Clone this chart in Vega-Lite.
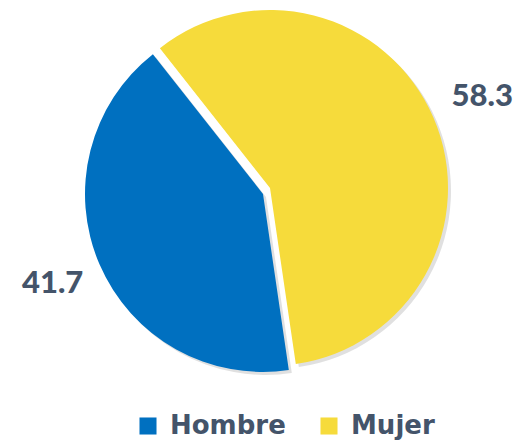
{
  "$schema": "https://vega.github.io/schema/vega-lite/v6.json",
  "width": 508,
  "height": 376,
  "padding": {"left": 16, "top": 0, "right": 0, "bottom": 65},
  "autosize": {"type": "none"},
  "background": "white",
  "view": {"stroke": null},
  "data": {"values": [
    {"sexo": "Mujer", "valor": 58.3, "orden": 1},
    {"sexo": "Hombre", "valor": 41.7, "orden": 2}
  ]},
  "encoding": {
    "theta": {"field": "valor", "type": "quantitative", "stack": true,
      "scale": {"type": "linear", "domain": [0, 100], "range": [-0.667, 5.6162]}},
    "order": {"field": "orden", "type": "quantitative"}
  },
  "layer": [
    {
      "mark": {"type": "arc", "outerRadius": 178, "xOffset": 3, "yOffset": 3, "fill": "#000000"},
      "encoding": {
        "opacity": {"condition": {"test": "datum.sexo === 'Mujer'", "value": 0.12}, "value": 0}
      }
    },
    {
      "mark": {"type": "arc", "outerRadius": 178, "xOffset": -4, "yOffset": 9, "fill": "#000000"},
      "encoding": {
        "opacity": {"condition": {"test": "datum.sexo === 'Hombre'", "value": 0.12}, "value": 0}
      }
    },
    {
      "mark": {"type": "arc", "outerRadius": 178},
      "encoding": {
        "color": {"field": "sexo", "type": "nominal",
          "scale": {"domain": ["Hombre", "Mujer"], "range": ["#0070C0", "#F6DB3B"]},
          "legend": {
            "orient": "none", "direction": "horizontal", "title": null,
            "legendX": 119, "legendY": 413,
            "symbolType": "square", "symbolSize": 290, "symbolStrokeWidth": 0,
            "symbolOpacity": 1,
            "labelFont": "DejaVu Sans", "labelFontSize": 26, "labelFontWeight": "bold",
            "labelColor": "#44546A", "labelOffset": 9, "columnPadding": 30, "labelLimit": 300
          }},
        "opacity": {"condition": {"test": "datum.sexo === 'Mujer'", "value": 1}, "value": 0}
      }
    },
    {
      "mark": {"type": "arc", "outerRadius": 178, "xOffset": -7, "yOffset": 6},
      "encoding": {
        "color": {"field": "sexo", "type": "nominal"},
        "opacity": {"condition": {"test": "datum.sexo === 'Hombre'", "value": 1}, "value": 0}
      }
    },
    {
      "mark": {"type": "text", "radius": 231, "font": "Lato", "fontSize": 31, "fontWeight": 900, "fill": "#44546A"},
      "encoding": {
        "text": {"field": "valor", "type": "quantitative", "format": ".1f"},
        "opacity": {"condition": {"test": "datum.sexo === 'Mujer'", "value": 1}, "value": 0}
      }
    },
    {
      "mark": {"type": "text", "radius": 229, "font": "Lato", "fontSize": 31, "fontWeight": 900, "fill": "#44546A", "xOffset": -7, "yOffset": 6},
      "encoding": {
        "text": {"field": "valor", "type": "quantitative", "format": ".1f"},
        "opacity": {"condition": {"test": "datum.sexo === 'Hombre'", "value": 1}, "value": 0}
      }
    }
  ]
}
